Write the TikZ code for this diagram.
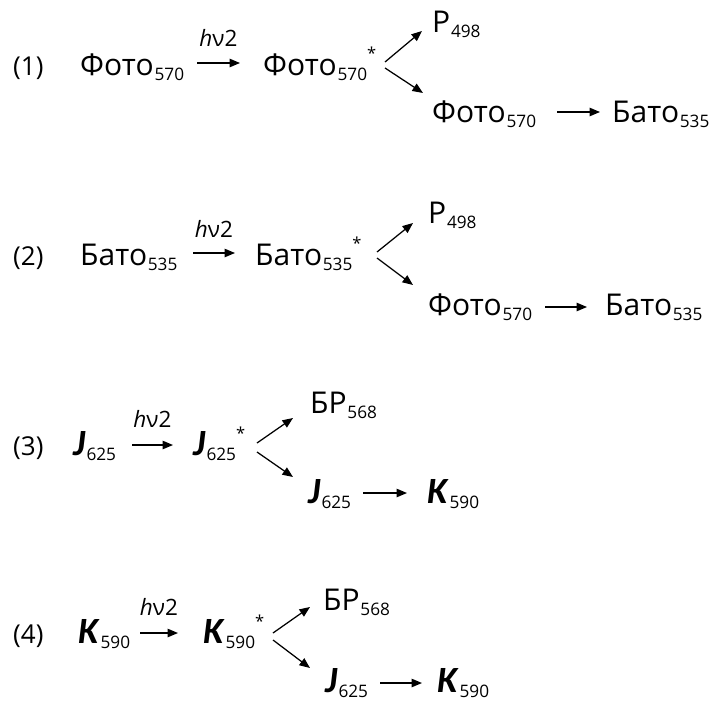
\documentclass[tikz,border=0pt]{standalone}
\usepackage{fontspec}
\setmainfont{Open Sans}
\newfontfamily\boldit{Carlito}
\usetikzlibrary{arrows.meta,calc}

% species name with a lowered index
\newcommand\mol[2]{#1\kern0.8pt\raisebox{-5pt}{\fontsize{17.2}{17.2}\selectfont #2}}
% excited-state mark
\newcommand\exc{\raisebox{15.5pt}{\fontsize{16.5}{16.5}\selectfont *}}
\newcommand\bi[1]{{\boldit\fontsize{37}{39}\selectfont\textbf{\textit{#1}}}}
\newcommand\hnu{\textit{h}ν2}

\begin{document}
\begin{tikzpicture}[x=1pt,y=-1pt,
  sp/.style={anchor=base west,inner sep=0pt,font=\fontsize{30}{32}\selectfont},
  num/.style={anchor=base west,inner sep=0pt,font=\fontsize{26}{28}\selectfont},
  lbl/.style={anchor=base,inner sep=0pt,font=\fontsize{22.5}{24}\selectfont},
  arr/.style={line width=1.25pt,-{Triangle[length=10.5pt,width=8.5pt]}}]
\useasboundingbox (0,0) rectangle (715,704);

% ---------- (1) ----------
\node[num] (n1) at (13,75) {(1)};
\node[sp] (a1) at (80,75) {\mol{Фото}{570}};
\node[sp] (b1) at (263,75) {\mol{Фото}{570}\exc};
\node[sp] (c1) at (432,32) {\mol{Р}{498}};
\node[sp] (d1) at (432,122) {\mol{Фото}{570}};
\node[sp] (e1) at (612,122) {\mol{Бато}{535}};
\draw[arr] ($(a1.base west)+(117,-12)$) -- ($(b1.base west)+(-23,-12)$)
  node[lbl,midway,yshift=17pt] {\hnu};
\draw[arr] ($(b1.base west)+(122,-13)$) -- ($(c1.base west)+(-10,-1)$);
\draw[arr] ($(b1.base west)+(122,-7)$) -- ($(d1.base west)+(-9,-29)$);
\draw[arr] ($(d1.base west)+(125,-10)$) -- ($(e1.base west)+(-12,-10)$);

% ---------- (2) ----------
\node[num] (n2) at (13,265) {(2)};
\node[sp] (a2) at (80,265) {\mol{Бато}{535}};
\node[sp] (b2) at (255,265) {\mol{Бато}{535}\exc};
\node[sp] (c2) at (428,223) {\mol{Р}{498}};
\node[sp] (d2) at (428,315) {\mol{Фото}{570}};
\node[sp] (e2) at (605,315) {\mol{Бато}{535}};
\draw[arr] ($(a2.base west)+(113,-12)$) -- ($(b2.base west)+(-20,-12)$)
  node[lbl,midway,yshift=16pt] {\hnu};
\draw[arr] ($(b2.base west)+(122,-13)$) -- ($(c2.base west)+(-15,0)$);
\draw[arr] ($(b2.base west)+(122,-7)$) -- ($(d2.base west)+(-15,-30)$);
\draw[arr] ($(d2.base west)+(117,-8)$) -- ($(e2.base west)+(-18,-8)$);

% ---------- (3) ----------
\node[num] (n3) at (13,455) {(3)};
\node[sp] (a3) at (73,455) {\mol{\bi{J}}{625}};
\node[sp] (b3) at (193,455) {\mol{\bi{J}}{625}\exc};
\node[sp] (c3) at (310,413) {\mol{БР}{568}};
\node[sp] (d3) at (308,503) {\mol{\bi{J}}{625}};
\node[sp] (e3) at (427,503) {\mol{\bi{K}}{590}};
\draw[arr] ($(a3.base west)+(59,-10)$) -- ($(b3.base west)+(-20,-10)$)
  node[lbl,midway,yshift=18pt] {\hnu};
\draw[arr] ($(b3.base west)+(64,-12)$) -- ($(c3.base west)+(-17,5)$);
\draw[arr] ($(b3.base west)+(64,-3)$) -- ($(d3.base west)+(-15,-26)$);
\draw[arr] ($(d3.base west)+(55,-10)$) -- ($(e3.base west)+(-20,-10)$);

% ---------- (4) ----------
\node[num] (n4) at (13,643) {(4)};
\node[sp] (a4) at (78,643) {\mol{\bi{K}}{590}};
\node[sp] (b4) at (203,643) {\mol{\bi{K}}{590}\exc};
\node[sp] (c4) at (323,610) {\mol{БР}{568}};
\node[sp] (d4) at (325,692) {\mol{\bi{J}}{625}};
\node[sp] (e4) at (437,692) {\mol{\bi{K}}{590}};
\draw[arr] ($(a4.base west)+(62,-10)$) -- ($(b4.base west)+(-25,-10)$)
  node[lbl,midway,yshift=18pt] {\hnu};
\draw[arr] ($(b4.base west)+(70,-10)$) -- ($(c4.base west)+(-13,-3)$);
\draw[arr] ($(b4.base west)+(70,-3)$) -- ($(d4.base west)+(-15,-24)$);
\draw[arr] ($(d4.base west)+(55,-9)$) -- ($(e4.base west)+(-15,-9)$);
\end{tikzpicture}
\end{document}
